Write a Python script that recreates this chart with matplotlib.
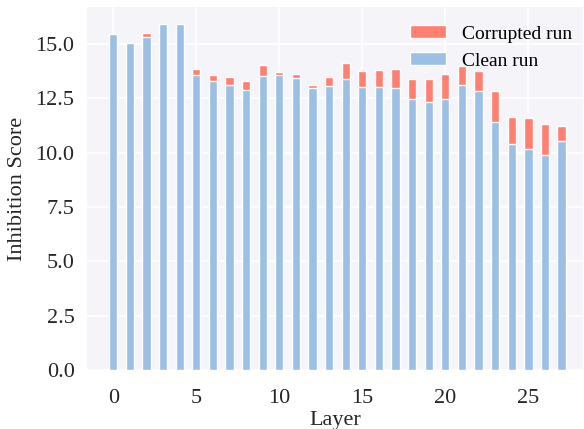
import matplotlib.pyplot as plt
import numpy as np

# inhibition scores per layer
layers = np.arange(28)
clean_run = [15.44, 15.02, 15.33, 15.91, 15.91, 13.55, 13.27, 13.09, 12.87, 13.51,
             13.56, 13.44, 12.96, 13.06, 13.37, 13.03, 13.03, 12.99, 12.47, 12.34,
             12.47, 13.12, 12.81, 11.40, 10.40, 10.17, 9.91, 10.55]
corrupted_run = [15.44, 15.02, 15.50, 15.91, 15.91, 13.86, 13.58, 13.46, 13.29, 14.03,
                 13.69, 13.63, 13.10, 13.46, 14.11, 13.75, 13.79, 13.82, 13.37, 13.38,
                 13.62, 13.96, 13.73, 12.83, 11.62, 11.59, 11.30, 11.24]

plt.rcParams['font.family'] = ['Liberation Serif', 'DejaVu Serif']
plt.rcParams['font.size'] = 16

fig = plt.figure(figsize=(5.84, 4.29), dpi=100)
ax = fig.add_axes([0.149, 0.1375, 0.849, 0.8465])
ax.set_facecolor('#F4F4F9')
for s in ax.spines.values():
    s.set_visible(False)
ax.grid(True, color='white', linewidth=1.2)
ax.set_axisbelow(True)

ax.bar(layers, corrupted_run, width=0.5, color='#FF8070', edgecolor='white',
       linewidth=1, label='Corrupted run')
ax.bar(layers, clean_run, width=0.5, color='#9BC0E3', edgecolor='white',
       linewidth=1, label='Clean run')

ax.set_xlim(-1.58, 28.28)
ax.set_ylim(0, 16.7)
ax.set_xticks([0, 5, 10, 15, 20, 25])
ax.set_yticks(np.arange(0, 16, 2.5))
ax.yaxis.set_major_formatter(plt.FormatStrFormatter('%.1f'))
ax.tick_params(length=0, labelsize=16, labelcolor='#262626')
ax.tick_params(axis='x', pad=14)
ax.tick_params(axis='y', pad=9)
ax.set_xlabel('Layer', fontsize=16, labelpad=2, color='#262626')
ax.set_ylabel('Inhibition Score', fontsize=16, labelpad=6, color='#262626')

ax.legend(loc='upper right', bbox_to_anchor=(1.0, 0.979), frameon=False,
          fontsize=14, handlelength=1.85, handleheight=0.65,
          borderaxespad=0.15, labelspacing=0.5)

fig.savefig('out.png', dpi=100)
